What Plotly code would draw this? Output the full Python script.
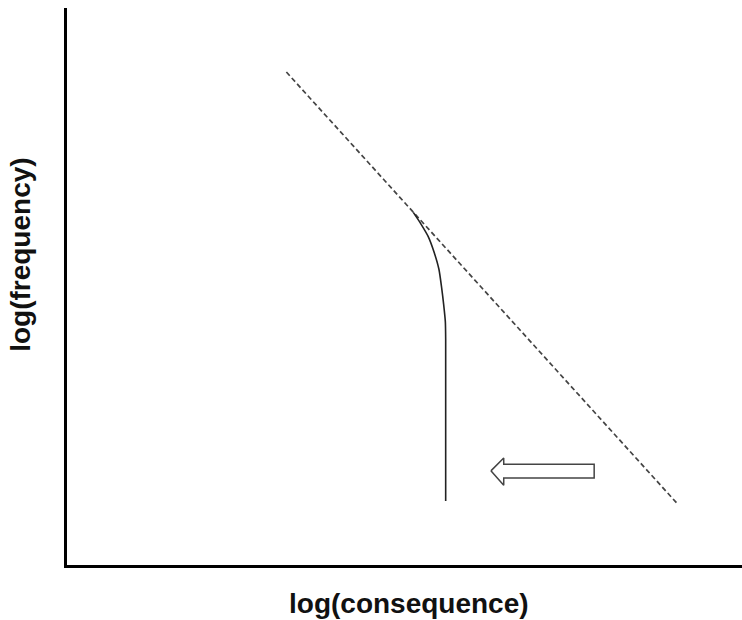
import plotly.graph_objects as go

# Reference power-law line (log-log straight line)
ref_x = [32.5, 90.5]
ref_y = [88.5, 10.9]

# Truncated distribution: bends away from the line and drops vertically
curve_x = [51.3, 52.4, 53.5, 54.4, 55.1, 55.5, 55.8, 56.05, 56.1, 56.1]
curve_y = [63.3, 61.3, 59.0, 56.1, 53.1, 49.8, 46.8, 43.7, 40.5, 11.5]

# Outlined arrow pointing left (shift of the tail)
arrow_x = [62.8, 64.7, 64.7, 78.1, 78.1, 64.7, 64.7, 62.8]
arrow_y = [16.9, 19.2, 18.1, 18.1, 15.6, 15.6, 14.3, 16.9]

fig = go.Figure()

fig.add_trace(go.Scatter(
    x=ref_x, y=ref_y, mode="lines",
    line=dict(color="#444444", width=1.7, dash="5px,3px"),
    hoverinfo="skip",
))
fig.add_trace(go.Scatter(
    x=curve_x, y=curve_y, mode="lines",
    line=dict(color="#222222", width=1.6, shape="spline", smoothing=0.6),
    hoverinfo="skip",
))
fig.add_trace(go.Scatter(
    x=arrow_x, y=arrow_y, mode="lines", fill="toself",
    fillcolor="white",
    line=dict(color="#444444", width=1.5),
    hoverinfo="skip",
))

axis_common = dict(
    showgrid=False, zeroline=False, showticklabels=False, ticks="",
    showline=True, linecolor="black", linewidth=2.5, fixedrange=True,
)

fig.update_layout(
    width=742, height=620,
    margin=dict(l=67, r=0, t=8, b=55),
    paper_bgcolor="white", plot_bgcolor="white",
    showlegend=False,
    xaxis=dict(range=[0, 100], **axis_common),
    yaxis=dict(range=[0, 100], **axis_common),
    annotations=[
        dict(text="<b>log(consequence)</b>", xref="paper", yref="paper",
             x=0.506, y=-0.07, xanchor="center", yanchor="middle",
             showarrow=False,
             font=dict(family="Liberation Sans, Arial", size=28, color="#111111")),
        dict(text="<b>log(frequency)</b>", xref="paper", yref="paper",
             x=-0.068, y=0.557, xanchor="center", yanchor="middle",
             textangle=-90, showarrow=False,
             font=dict(family="Liberation Sans, Arial", size=28, color="#111111")),
    ],
)

fig.write_html("out.html")
